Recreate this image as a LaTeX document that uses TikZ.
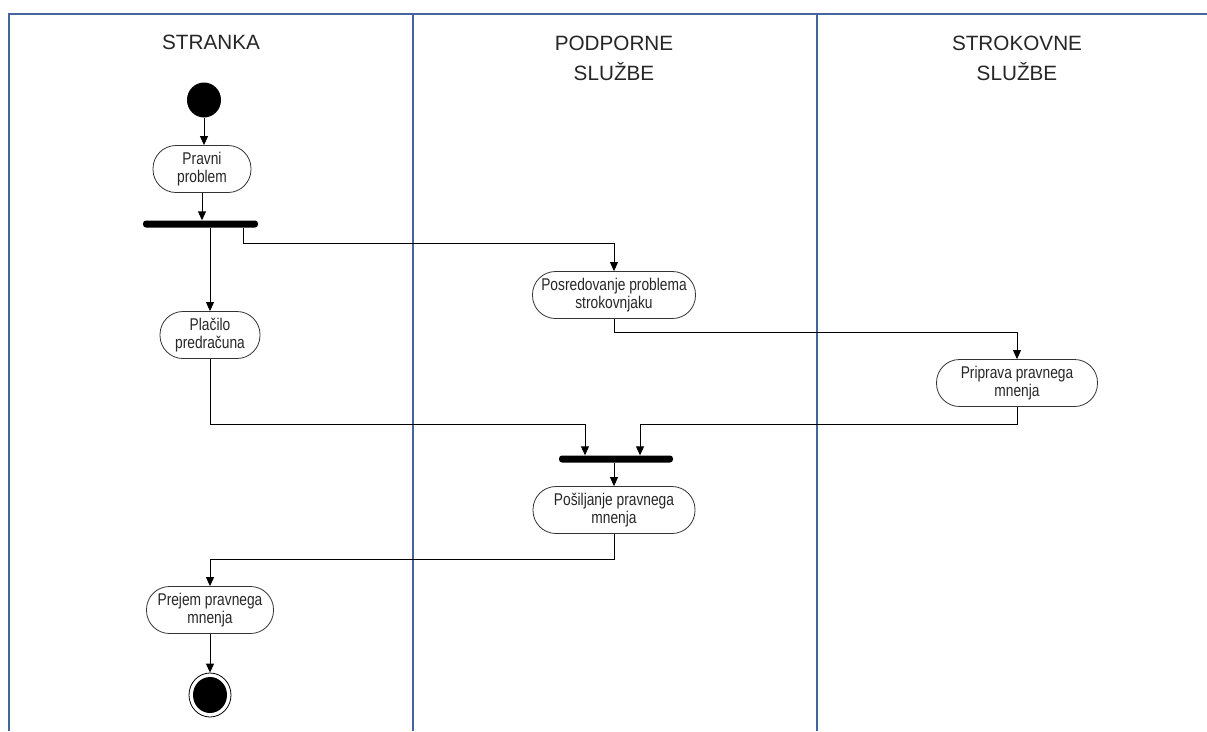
\documentclass[tikz,border=0pt]{standalone}
\usepackage{fontspec}
\setmainfont{Liberation Sans}
\newfontfamily\boxfont{Liberation Sans}[FakeStretch=0.81]
\usetikzlibrary{arrows.meta,calc,shapes.geometric}
\definecolor{laneblue}{RGB}{70,100,160}
\begin{document}
\begin{tikzpicture}[x=1pt,y=-1pt,
  lane/.style={draw=laneblue,line width=1.3pt},
  header/.style={font=\fontsize{20.7}{30.5}\selectfont,align=center,text=black!85},
  activity/.style={draw=black!80,line width=0.8pt,rectangle,rounded corners=23pt,
    minimum height=47pt,align=center,inner sep=1pt,
    font=\boxfont\fontsize{17}{18.5}\selectfont,text=black!85},
  bar/.style={fill=black,rectangle,rounded corners=3pt,minimum height=7pt,inner sep=0pt},
  flow/.style={draw=black,line width=0.9pt},
  arr/.style={flow,-{Triangle[length=9pt,width=8pt]}}]
  \useasboundingbox (0,0) rectangle (1207,731);

  % swimlanes
  \draw[lane] (1207,14) -- (9,14) -- (9,731);
  \draw[lane] (413,14) -- (413,731);
  \draw[lane] (817,14) -- (817,731);
  \node[header] (h1) at (211,42) {STRANKA};
  \node[header] (h2) at (614,58.5) {PODPORNE\\SLUŽBE};
  \node[header] (h3) at (1017,58.5) {STROKOVNE\\SLUŽBE};

  % activities
  \node[fill=black,ellipse,minimum width=34pt,minimum height=35pt,inner sep=0pt] (start) at (204,100) {};
  \node[activity,minimum width=98pt] (pravni) at (202,169) {Pravni\\problem};
  \node[bar,minimum width=115pt] (fork) at (200.5,224) {};
  \node[activity,minimum width=100pt] (placilo) at (210,335) {Plačilo\\predračuna};
  \node[activity,minimum width=163pt] (posred) at (614,295) {Posredovanje problema\\strokovnjaku};
  \node[activity,minimum width=161pt] (priprava) at (1017,383) {Priprava pravnega\\mnenja};
  \node[bar,minimum width=114pt] (join) at (616,459) {};
  \node[activity,minimum width=162pt] (posilj) at (614,510) {Pošiljanje pravnega\\mnenja};
  \node[activity,minimum width=127pt] (prejem) at (210,610) {Prejem pravnega\\mnenja};
  \node[draw=black,line width=0.8pt,ellipse,minimum width=42pt,minimum height=44pt,inner sep=0pt] (endo) at (210,695) {};
  \node[fill=black,ellipse,minimum width=34pt,minimum height=36pt,inner sep=0pt] (endi) at (210,695) {};

  % flows
  \draw[arr] (start.south) -- (start.south |- pravni.north);
  \draw[arr] (pravni.south) -- (pravni.south |- fork.north);
  \draw[arr] (placilo.north |- fork.south) -- (placilo.north);
  \coordinate (f2) at ($(fork.south)+(42.5,0)$);
  \draw[arr] (f2) -- ++(0,16) -| (posred.north);
  \coordinate (j1) at ($(join.north)+(-31,0)$);
  \coordinate (j2) at ($(join.north)+(24,0)$);
  \draw[arr] (placilo.south) |- ($(j1)+(0,-31)$) -- (j1);
  \draw[arr] (posred.south) |- ($(priprava.north)+(0,-27)$) -- (priprava.north);
  \draw[arr] (priprava.south) |- ($(j2)+(0,-31)$) -- (j2);
  \draw[arr] (posilj.north |- join.south) -- (posilj.north);
  \draw[arr] (posilj.south) |- ($(prejem.north)+(0,-27)$) -- (prejem.north);
  \draw[arr] (prejem.south) -- (endo.north);
\end{tikzpicture}
\end{document}
